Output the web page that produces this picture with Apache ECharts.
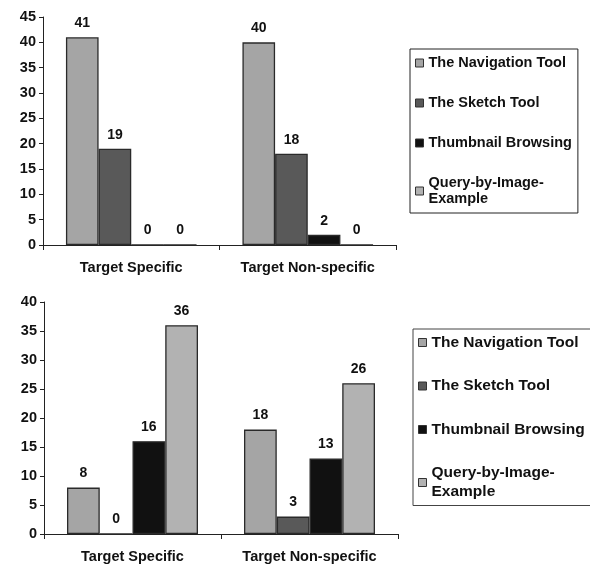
<!DOCTYPE html>
<html>
<head>
<meta charset="utf-8">
<script src="https://cdn.jsdelivr.net/npm/echarts@6/dist/echarts.min.js"></script>
<style>html,body{margin:0;padding:0;background:#fff;}#c{width:590px;height:564px;}</style>
</head>
<body>
<div id="c"></div>
<script>
const categories = ['Target Specific', 'Target Non-specific'];
const seriesNames = ['The Navigation Tool', 'The Sketch Tool', 'Thumbnail Browsing', 'Query-by-Image-Example'];
const legendLabels = ['The Navigation Tool', 'The Sketch Tool', 'Thumbnail Browsing', 'Query-by-Image-\nExample'];
const topNavigation = [41, 40];
const topSketch = [19, 18];
const topThumbnail = [0, 2];
const topQuery = [0, 0];
const bottomNavigation = [8, 18];
const bottomSketch = [0, 3];
const bottomThumbnail = [16, 13];
const bottomQuery = [36, 26];
const topTicks = {min: 0, max: 45, interval: 5};
const bottomTicks = {min: 0, max: 40, interval: 5};

const colors = ['#a5a5a5', '#595959', '#111111', '#b2b2b2'];
const FONT = '"Liberation Sans", Arial, sans-serif';
const topData = [topNavigation, topSketch, topThumbnail, topQuery];
const bottomData = [bottomNavigation, bottomSketch, bottomThumbnail, bottomQuery];

function mkSeries(data, gi) {
  return data.map((d, i) => ({
    name: seriesNames[i],
    type: 'bar',
    xAxisIndex: gi, yAxisIndex: gi,
    data: d,
    barGap: '0%',
    barCategoryGap: '26%',
    itemStyle: {color: colors[i], borderColor: '#2a2a2a', borderWidth: 1.3},
    label: {show: true, position: 'top', distance: 7, color: '#111', fontFamily: FONT, fontWeight: 'bold', fontSize: 14},
    emphasis: {disabled: true},
    animation: false
  }));
}

function xAx(gi) {
  return {
    type: 'category', gridIndex: gi, data: categories,
    axisLine: {lineStyle: {color: '#222', width: 1}},
    axisTick: {show: true, alignWithLabel: false, length: 5, lineStyle: {color: '#222'}},
    axisLabel: {color: '#111', fontFamily: FONT, fontWeight: 'bold', fontSize: 14.5, margin: 15}
  };
}
function yAx(gi, t) {
  return {
    type: 'value', gridIndex: gi, min: t.min, max: t.max, interval: t.interval,
    axisLine: {show: true, lineStyle: {color: '#222', width: 1}},
    axisTick: {show: true, length: 4, lineStyle: {color: '#222'}},
    splitLine: {show: false},
    axisLabel: {color: '#111', fontFamily: FONT, fontWeight: 'bold', fontSize: 14.5, margin: 7}
  };
}
function legendFmt(name) { return legendLabels[seriesNames.indexOf(name)]; }

const chart = echarts.init(document.getElementById('c'), null, {renderer: 'canvas'});
chart.setOption({
  animation: false,
  grid: [
    {left: 43, top: 17, width: 353, height: 228},
    {left: 44, top: 302, width: 354, height: 233}
  ],
  xAxis: [xAx(0), xAx(1)],
  yAxis: [yAx(0, topTicks), yAx(1, bottomTicks)],
  legend: [
    {
      orient: 'vertical', left: 410, top: 49,
      data: seriesNames, formatter: legendFmt,
      borderColor: '#222', borderWidth: 1, padding: [6, 6, 6, 5],
      itemWidth: 8, itemHeight: 8, itemGap: 24, icon: 'rect',
      itemStyle: {borderColor: '#333', borderWidth: 1},
      textStyle: {color: '#111', fontFamily: FONT, fontWeight: 'bold', fontSize: 14.5, lineHeight: 16},
      selectedMode: false
    },
    {
      orient: 'vertical', left: 413, top: 329,
      data: seriesNames, formatter: legendFmt,
      borderColor: '#444', borderWidth: 1, padding: [4, 20, 4, 5],
      itemWidth: 8, itemHeight: 8, itemGap: 24.5, icon: 'rect',
      itemStyle: {borderColor: '#333', borderWidth: 1},
      textStyle: {color: '#111', fontFamily: FONT, fontWeight: 'bold', fontSize: 15.5, lineHeight: 19},
      selectedMode: false
    }
  ],
  series: mkSeries(topData, 0).concat(mkSeries(bottomData, 1))
});
</script>
</body>
</html>
